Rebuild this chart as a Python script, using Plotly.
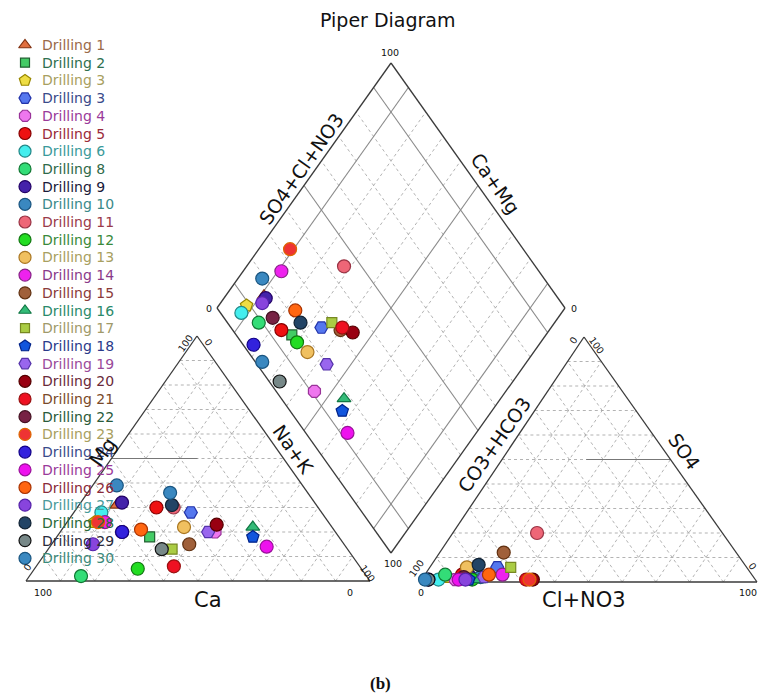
import plotly.graph_objects as go

# ---------------- data ----------------
names = ["Drilling 1", "Drilling 2", "Drilling 3", "Drilling 3", "Drilling 4", "Drilling 5",
         "Drilling 6", "Drilling 8", "Drilling 9", "Drilling 10", "Drilling 11", "Drilling 12",
         "Drilling 13", "Drilling 14", "Drilling 15", "Drilling 16", "Drilling 17", "Drilling 18",
         "Drilling 19", "Drilling 20", "Drilling 21", "Drilling 22", "Drilling 23", "Drilling 24",
         "Drilling 25", "Drilling 26", "Drilling 27", "Drilling 28", "Drilling 29", "Drilling 30"]

# cations (% meq)
ca  = [58, 55, 68, 38, 35, 47, 64, 83, 56, 54, 42, 65, 43, 65, 45, 23, 51, 25, 37, 33, 54, 62, 67, 62, 23, 56, 73, 42, 54, 40]
mg  = [31, 18, 24, 28, 20, 30, 28, 2, 32, 39, 30, 5, 22, 24, 15, 22, 13, 18, 20, 23, 6, 20, 24, 20, 14, 21, 15, 31, 13, 36]
nak = [11, 27, 8, 34, 45, 23, 8, 15, 12, 7, 28, 30, 35, 11, 40, 55, 36, 57, 43, 44, 40, 18, 9, 18, 63, 23, 12, 27, 33, 24]
# anions (% meq)
hco3 = [84, 84, 91, 74, 89, 86, 94, 91, 84, 81, 55, 84, 83, 74, 69, 82, 70, 85, 80, 66, 68, 86, 67, 97, 88, 78, 86, 79, 97, 98]
so4  = [3, 3, 2, 6, 1, 3, 1, 3, 2, 2, 20, 1, 6, 3, 12, 1, 6, 1, 2, 1, 1, 2, 1, 1, 1, 3, 1, 7, 1, 1]
cl   = [13, 13, 7, 20, 10, 11, 5, 6, 14, 17, 25, 15, 11, 23, 19, 17, 24, 14, 18, 33, 31, 12, 32, 2, 11, 19, 13, 14, 2, 1]

# ---------------- styles ----------------
symbols = ["triangle-up", "square", "pentagon", "hexagon2", "octagon", "circle", "circle", "circle",
           "circle", "circle", "circle", "circle", "circle", "circle", "circle", "triangle-up",
           "square", "pentagon", "hexagon2", "circle", "circle", "circle", "circle", "circle",
           "circle", "circle", "circle", "circle", "circle", "circle"]
sym_size = {"triangle-up": 12, "square": 10, "pentagon": 13, "hexagon2": 13, "octagon": 13, "circle": 13}
fills = ["#e07040", "#44cc66", "#eedd44", "#5577ee", "#ee77ee", "#ee1111", "#44eeee", "#33dd77",
         "#4422aa", "#3a88c0", "#ee6677", "#22dd22", "#f0c060", "#ee22ee", "#a0603a", "#33bb77",
         "#aacc44", "#1155dd", "#9966ee", "#990011", "#ee1122", "#772244", "#ee3333", "#3322dd",
         "#ee11ee", "#ff6611", "#8844dd", "#224466", "#778888", "#3a88c0"]
edges = ["#803010", "#206030", "#998800", "#2233aa", "#993399", "#880000", "#228888", "#117733",
         "#220066", "#1a5580", "#993344", "#117711", "#aa7722", "#882288", "#603010", "#117744",
         "#778822", "#002288", "#5533aa", "#550000", "#991111", "#441122", "#dd6600", "#110088",
         "#991199", "#aa3300", "#5522aa", "#112233", "#111111", "#1a5580"]
text_colors = ["#9a6a4a", "#2f6f4f", "#a8a060", "#3a4a8a", "#9a3a9a", "#9a2a3a", "#3a9a9a", "#2f6a4a",
               "#1a1a3a", "#3a8a8a", "#9a3a4a", "#3a8a3a", "#a8a060", "#8a3a8a", "#8a3a3a", "#2a8a6a",
               "#a09a6a", "#2a3a8a", "#9a4a9a", "#6a2a3a", "#7a4a2a", "#2a5a3a", "#a8a060", "#3a4a8a",
               "#9a3a9a", "#8a2a3a", "#4a9a9a", "#2a6a3a", "#2a2a3a", "#3a8a7a"]
sizes = [sym_size[s] for s in symbols]

# ---------------- geometry (page units) ----------------
C_L, C_R, C_T = (26, 581), (370, 581), (197, 336)      # cation triangle
A_L, A_R, A_T = (420, 582), (757, 582), (584, 337)     # anion triangle
D_B, D_L, D_R = (391, 553), (217, 308), (565, 308)     # diamond
D_T = (D_L[0] + D_R[0] - D_B[0], D_L[1] + D_R[1] - D_B[1])

FONT = "DejaVu Sans, Verdana, sans-serif"


def lerp(p, q, t):
    return (p[0] + (q[0] - p[0]) * t, p[1] + (q[1] - p[1]) * t)


def bary(p0, p1, p2, w1, w2):
    return (p0[0] + w1 * (p1[0] - p0[0]) + w2 * (p2[0] - p0[0]),
            p0[1] + w1 * (p1[1] - p0[1]) + w2 * (p2[1] - p0[1]))


def cation_xy(m, n):
    return bary(C_L, C_R, C_T, n / 100, m / 100)


def anion_xy(s, c):
    return bary(A_L, A_R, A_T, c / 100, s / 100)


def diamond_xy(n, h):
    a, b = 1 - n / 100, 1 - h / 100
    return (D_B[0] + a * (D_L[0] - D_B[0]) + b * (D_R[0] - D_B[0]),
            D_B[1] + a * (D_L[1] - D_B[1]) + b * (D_R[1] - D_B[1]))


fig = go.Figure()


def add_segments(segs, color, width, dash):
    xs, ys = [], []
    for p, q in segs:
        xs += [p[0], q[0], None]
        ys += [p[1], q[1], None]
    fig.add_trace(go.Scatter(x=xs, y=ys, mode="lines", hoverinfo="skip", showlegend=False,
                             line=dict(color=color, width=width, dash=dash)))


def tri_grid(P0, P1, P2):
    segs = []
    for k in range(1, 10):
        t = k / 10
        segs.append((lerp(P0, P2, t), lerp(P1, P2, t)))
        segs.append((lerp(P0, P1, t), lerp(P2, P1, t)))
        segs.append((lerp(P1, P0, t), lerp(P2, P0, t)))
    return segs


# dotted grids
dotted = tri_grid(C_L, C_R, C_T) + tri_grid(A_L, A_R, A_T)
solid_d = []
for k in range(1, 10):
    t = k / 10
    s1 = (lerp(D_B, D_R, t), lerp(D_L, D_T, t))
    s2 = (lerp(D_B, D_L, t), lerp(D_R, D_T, t))
    if k in (1, 5, 9):
        solid_d += [s1, s2]
    else:
        dotted += [s1, s2]
add_segments(dotted, "#a0a0a0", 0.8, "dot")
add_segments(solid_d, "#8a8a8a", 1.1, "solid")

# facies lines in triangles
fac = [(cation_xy(50, 0), cation_xy(50, 25)),
       (anion_xy(50, 50), anion_xy(50, 25))]
add_segments(fac, "#777777", 1.0, "solid")

# outlines
outline = [(C_L, C_R), (C_R, C_T), (C_T, C_L),
           (A_L, A_R), (A_R, A_T), (A_T, A_L),
           (D_B, D_L), (D_L, D_T), (D_T, D_R), (D_R, D_B)]
add_segments(outline, "#3a3a3a", 1.3, "solid")

# samples
for i in range(len(names)):
    cx, cy = cation_xy(mg[i], nak[i])
    ax, ay = anion_xy(so4[i], cl[i])
    dx, dy = diamond_xy(nak[i], hco3[i])
    fig.add_trace(go.Scatter(
        x=[cx, ax, dx], y=[cy, ay, dy], mode="markers", name=names[i], showlegend=False,
        marker=dict(symbol=symbols[i], size=sizes[i], color=fills[i], opacity=1,
                    line=dict(color=edges[i], width=1.2))))

# legend (drawn as a key column)
LEG_X, LEG_Y0, LEG_DY = 25, 45, 17.7
fig.add_trace(go.Scatter(
    x=[LEG_X] * len(names), y=[LEG_Y0 + i * LEG_DY for i in range(len(names))],
    mode="markers", showlegend=False, hoverinfo="skip",
    marker=dict(symbol=symbols, size=[s - 1 for s in sizes], color=fills, opacity=1,
                line=dict(color=edges, width=1.2))))

annotations = []
for i, nm in enumerate(names):
    annotations.append(dict(x=LEG_X + 15, y=LEG_Y0 + i * LEG_DY, xref="x", yref="y", text=nm,
                            showarrow=False, xanchor="left", yanchor="middle",
                            font=dict(size=14, color=text_colors[i], family=FONT)))


def lab(x, y, text, size=18, angle=0, family=FONT, color="#111"):
    annotations.append(dict(x=x, y=y, xref="x", yref="y", text=text, showarrow=False,
                            textangle=angle, xanchor="center", yanchor="middle",
                            font=dict(size=size, color=color, family=family)))


ANG = 54.8
lab(301, 169, "SO4+Cl+NO3", 19, -ANG)
lab(495, 183, "Ca+Mg", 19, ANG)
lab(103, 452, "Mg", 20, -ANG)
lab(293, 449, "Na+K", 19, ANG)
lab(494, 445, "CO3+HCO3", 19, -ANG)
lab(684, 451, "SO4", 19, ANG)
lab(208, 600, "Ca", 21)
lab(584, 600, "Cl+NO3", 21)

tick = 9.5
lab(390, 52, "100", tick)
lab(209, 308, "0", tick)
lab(574, 308, "0", tick)
lab(393, 563, "100", tick)
lab(43, 592, "100", tick)
lab(350, 592, "0", tick)
lab(27, 567, "0", tick, -ANG)
lab(368, 573, "100", tick, ANG)
lab(185, 343, "100", tick, -ANG)
lab(209, 342, "0", tick, ANG)
lab(573, 340, "0", tick, -ANG)
lab(597, 345, "100", tick, ANG)
lab(416, 568, "100", tick, -ANG)
lab(421, 592, "0", tick)
lab(753, 566, "0", tick, ANG)
lab(748, 592, "100", tick)

lab(388, 20, "Piper Diagram", 19, 0, FONT, "#111")
lab(380, 683, "<b>(b)</b>", 17, 0, "Liberation Serif, DejaVu Serif, serif", "#111")

fig.update_layout(
    width=760, height=699, margin=dict(l=0, r=0, t=0, b=0),
    paper_bgcolor="white", plot_bgcolor="white", showlegend=False,
    xaxis=dict(range=[0, 760], visible=False, fixedrange=True),
    yaxis=dict(range=[699, 0], visible=False, fixedrange=True),
    annotations=annotations,
)

fig.write_html("out.html")
